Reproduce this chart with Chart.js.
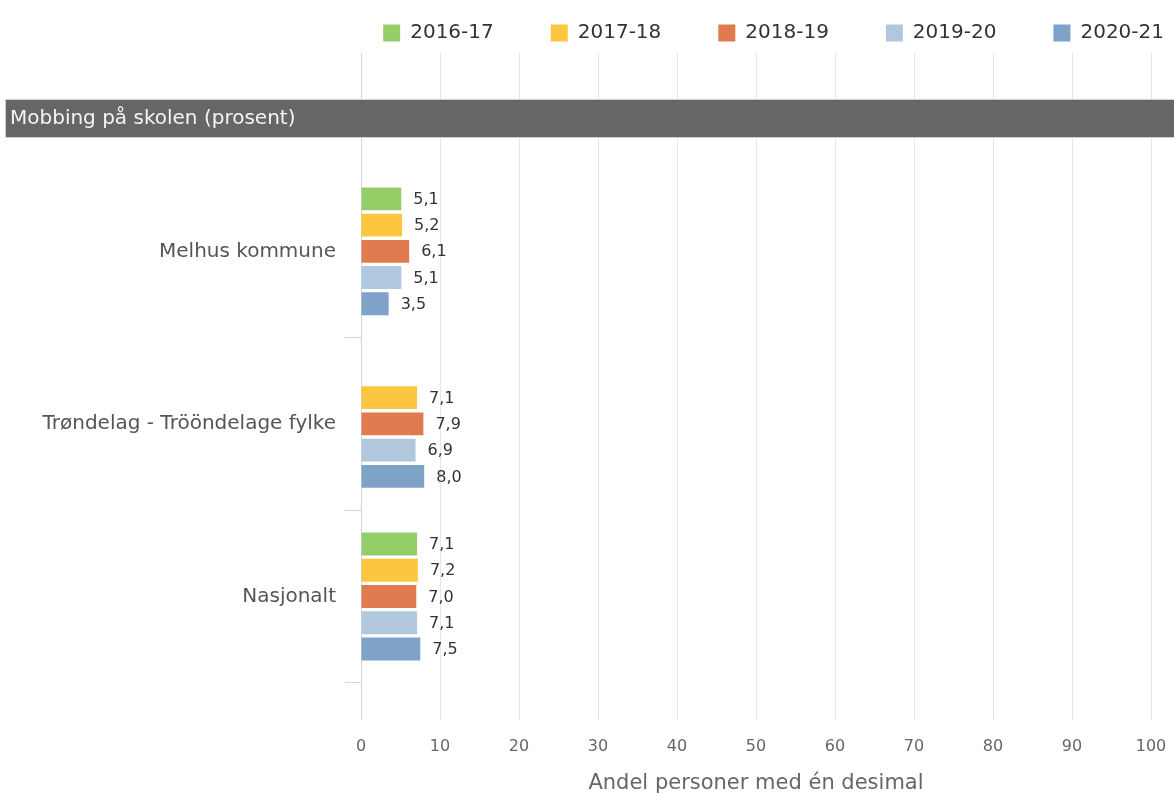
<!DOCTYPE html>
<html>
<head>
<meta charset="utf-8">
<script src="https://cdn.jsdelivr.net/npm/chart.js@4.4.0/dist/chart.umd.min.js"></script>
<style>
  html, body { margin: 0; padding: 0; background: #fff; overflow: hidden; }
  #wrap { width: 1174px; height: 794px; }
</style>
</head>
<body>
<div id="wrap"><canvas id="mobbingChart"></canvas></div>
<script>
const categories = ["Melhus kommune", "Trøndelag - Trööndelage fylke", "Nasjonalt"];
const seriesNames = ["2016-17", "2017-18", "2018-19", "2019-20", "2020-21"];
const values2016 = [5.1, null, 7.1];
const values2017 = [5.2, 7.1, 7.2];
const values2018 = [6.1, 7.9, 7.0];
const values2019 = [5.1, 6.9, 7.1];
const values2020 = [3.5, 8.0, 7.5];
const xTicks = [0, 10, 20, 30, 40, 50, 60, 70, 80, 90, 100];
const colors = ["#95ce67", "#fdc641", "#e07b4f", "#b1c7dd", "#7ea2c8"];

const FONT = "'DejaVu Sans', sans-serif";

const barLabels = {
  id: "barLabels",
  afterDatasetsDraw(chart) {
    const ctx = chart.ctx;
    ctx.save();
    ctx.font = "16px " + FONT;
    ctx.fillStyle = "#333333";
    ctx.textBaseline = "middle";
    ctx.textAlign = "left";
    chart.data.datasets.forEach((ds, i) => {
      chart.getDatasetMeta(i).data.forEach((bar, j) => {
        const v = ds.data[j];
        if (v == null) return;
        ctx.fillText(v.toFixed(1).replace(".", ","), bar.x + 12, bar.y + 1);
      });
    });
    ctx.restore();
  }
};

const headerBar = {
  id: "headerBar",
  afterLayout(chart) {
    // legend in the original runs past the right edge
    chart.legend.left += 30;
    chart.legend.right += 30;
  },
  afterDraw(chart) {
    const ctx = chart.ctx;
    const top = chart.chartArea.top - 66;
    ctx.save();
    ctx.fillStyle = "#666666";
    ctx.fillRect(5, top, chart.width, 39);
    ctx.strokeStyle = "#d0d0d0";
    ctx.lineWidth = 1;
    ctx.strokeRect(5.5, top + 0.5, chart.width, 38);
    ctx.font = "20px " + FONT;
    ctx.fillStyle = "#f4f4f4";
    ctx.textBaseline = "middle";
    ctx.fillText("Mobbing på skolen (prosent)", 10, top + 20);
    ctx.restore();
  }
};

const allSeries = [values2016, values2017, values2018, values2019, values2020];

new Chart(document.getElementById("mobbingChart"), {
  type: "bar",
  data: {
    labels: categories,
    datasets: allSeries.map((vals, i) => ({
      label: seriesNames[i],
      data: vals,
      backgroundColor: colors[i],
      borderWidth: 0,
      categoryPercentage: 0.76,
      barPercentage: 0.87
    }))
  },
  plugins: [barLabels, headerBar],
  options: {
    indexAxis: "y",
    responsive: true,
    maintainAspectRatio: false,
    animation: false,
    layout: { padding: { top: 6, right: 23, left: 0, bottom: 0 } },
    plugins: {
      legend: {
        position: "top",
        align: "end",
        labels: {
          boxWidth: 17,
          boxHeight: 17,
          padding: 17,
          color: "#333333",
          font: { family: FONT, size: 20 },
          generateLabels: chart => {
            const items = Chart.defaults.plugins.legend.labels.generateLabels(chart);
            // widen spacing between entries like the original legend
            items.forEach((it, i) => {
              if (i < items.length - 1) it.text = it.text + "\u2003\u2003";
            });
            return items;
          }
        }
      },
      tooltip: { enabled: false }
    },
    scales: {
      x: {
        position: "bottom",
        min: 0,
        max: 100,
        afterBuildTicks: s => { s.ticks = xTicks.map(v => ({ value: v })); },
        afterFit: s => { s.paddingRight = 0; },
        border: { display: false },
        grid: {
          color: c => (c.tick && c.tick.value === 0 ? "#ccd6eb" : "#e6e6e6"),
          tickLength: 37,
          drawTicks: true
        },
        ticks: {
          padding: 17,
          color: "#666666",
          font: { family: FONT, size: 16 }
        },
        title: {
          display: true,
          text: "Andel personer med én desimal",
          color: "#666666",
          font: { family: FONT, size: 21, lineHeight: 1 },
          padding: { top: 0, bottom: 0 }
        }
      },
      x2: {
        position: "top",
        min: 0,
        max: 100,
        afterBuildTicks: s => { s.ticks = xTicks.map(v => ({ value: v })); },
        afterFit: s => { s.paddingRight = 0; },
        border: { display: false },
        grid: {
          color: c => (c.tick && c.tick.value === 0 ? "#ccd6eb" : "#e6e6e6"),
          drawOnChartArea: false,
          tickLength: 112
        },
        ticks: { display: false }
      },
      y: {
        afterFit: s => { s.width = 361; },
        border: { display: true, color: "#ccd6eb" },
        grid: {
          offset: true,
          drawOnChartArea: false,
          tickLength: 16,
          color: c => (c.index === 0 ? "rgba(0,0,0,0)" : "#ccd6eb")
        },
        ticks: {
          padding: 9,
          color: "#555555",
          font: { family: FONT, size: 20 }
        }
      }
    }
  }
});
</script>
</body>
</html>
